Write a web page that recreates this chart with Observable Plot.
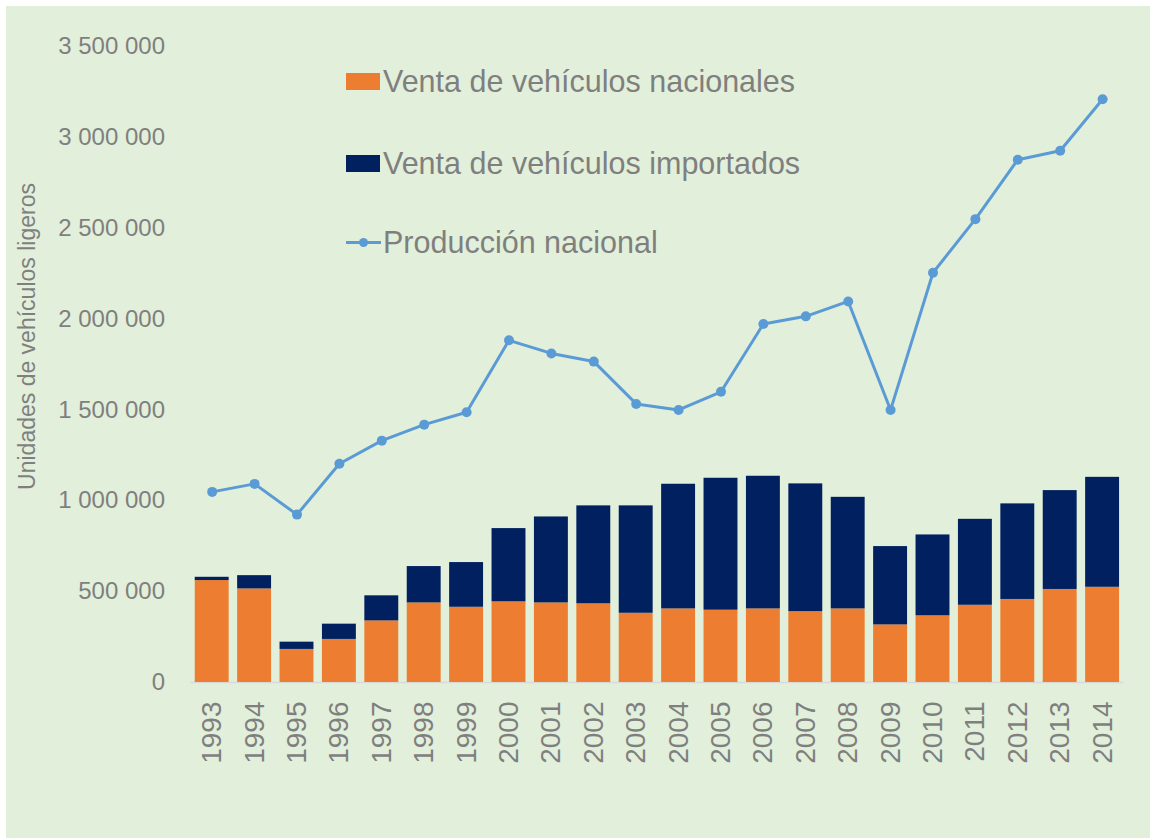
<!DOCTYPE html>
<html>
<head>
<meta charset="utf-8">
<script src="https://cdn.jsdelivr.net/npm/d3@7"></script>
<script src="https://cdn.jsdelivr.net/npm/@observablehq/plot@0.6"></script>
<style>
  html, body { margin: 0; padding: 0; background: #ffffff; }
  #wrap { position: absolute; left: 6px; top: 6px; width: 1144px; height: 832px; background: #e2efda; overflow: hidden;
          font-family: "Liberation Sans", Arial, sans-serif; color: #7f7f7f; }
  #legend { position: absolute; left: 340px; top: 55px; }
  .item { position: absolute; left: 0; height: 40px; display: flex; align-items: center; white-space: nowrap; font-size: 30.5px; }
  .sw { width: 34px; height: 17px; margin-right: 3px; }
  .ln { width: 35px; height: 20px; margin-right: 2px; position: relative; }
  .ln:before { content: ""; position: absolute; left: 0; right: 0; top: 8.5px; height: 3px; background: #5b9bd5; }
  .ln:after { content: ""; position: absolute; left: 13px; top: 5.5px; width: 9px; height: 9px; border-radius: 50%; background: #5b9bd5; }
</style>
</head>
<body>
<div id="wrap">
  <div id="chart"></div>
  <div id="legend"></div>
</div>
<script>
const years = ["1993","1994","1995","1996","1997","1998","1999","2000","2001","2002","2003","2004","2005","2006","2007","2008","2009","2010","2011","2012","2013","2014"];
const nacionales = [561000, 515000, 182000, 237000, 339000, 438000, 414000, 444000, 438000, 433000, 381000, 405000, 398000, 405000, 390000, 405000, 317000, 367000, 425000, 457000, 512000, 524000];
const importados = [18000, 73000, 40000, 84000, 138000, 200000, 246000, 403000, 473000, 539000, 591000, 686000, 726000, 730000, 703000, 614000, 431000, 445000, 473000, 526000, 544000, 605000];
const produccion = [1049000, 1093000, 924000, 1204000, 1331000, 1419000, 1487000, 1883000, 1811000, 1766000, 1533000, 1500000, 1600000, 1973000, 2015000, 2097000, 1500000, 2255000, 2550000, 2877000, 2926000, 3210000];
const seriesNames = ["Venta de vehículos nacionales", "Venta de vehículos importados", "Producción nacional"];
const seriesColors = ["#ed7d31", "#002060", "#5b9bd5"];
const yTicks = [0, 500000, 1000000, 1500000, 2000000, 2500000, 3000000, 3500000];
const yTitle = "Unidades de vehículos ligeros";

const barRows = [];
years.forEach((y, i) => barRows.push({year: y, serie: seriesNames[0], value: nacionales[i]}));
years.forEach((y, i) => barRows.push({year: y, serie: seriesNames[1], value: importados[i]}));
const lineRows = years.map((y, i) => ({year: y, value: produccion[i]}));

const fmt = d => d3.format(",")(d).replace(/,/g, " ");

const chart = Plot.plot({
  width: 1144,
  height: 832,
  marginTop: 40,
  marginBottom: 156,
  marginLeft: 184.5,
  marginRight: 26.7,
  style: {background: "transparent", fontFamily: "'Liberation Sans', Arial, sans-serif", color: "#7f7f7f"},
  x: {domain: years, paddingInner: 0.2, paddingOuter: 0.1, round: false, label: null},
  y: {domain: [0, 3500000], label: null},
  color: {domain: seriesNames.slice(0, 2), range: seriesColors.slice(0, 2)},
  marks: [
    Plot.ruleY([0], {stroke: "#d9d9d9", strokeWidth: 1.5}),
    Plot.barY(barRows, {x: "year", y: "value", fill: "serie"}),
    Plot.lineY(lineRows, {x: "year", y: "value", stroke: seriesColors[2], strokeWidth: 3}),
    Plot.dot(lineRows, {x: "year", y: "value", fill: seriesColors[2], r: 5}),
    Plot.axisY({ticks: yTicks, tickFormat: fmt, tickSize: 0, tickPadding: 26, fontSize: 24, label: null}),
    Plot.axisX({tickRotate: -90, tickSize: 0, tickPadding: 19, fontSize: 28, label: null}),
    Plot.text([yTitle], {frameAnchor: "left", text: d => d, rotate: -90, textAnchor: "middle", lineAnchor: "top", dx: -172.5, dy: -28, fontSize: 23, fill: "#7f7f7f"})
  ]
});
document.getElementById("chart").appendChild(chart);

// Legend (HTML overlay inside plot area)
const legend = document.getElementById("legend");
const tops = [0, 82, 161.5];
seriesNames.forEach((name, i) => {
  const item = document.createElement("div");
  item.className = "item";
  item.style.top = tops[i] + "px";
  const sym = document.createElement("span");
  if (i < 2) { sym.className = "sw"; sym.style.background = seriesColors[i]; }
  else { sym.className = "ln"; }
  item.appendChild(sym);
  const t = document.createElement("span");
  t.textContent = name;
  item.appendChild(t);
  legend.appendChild(item);
});
</script>
</body>
</html>
